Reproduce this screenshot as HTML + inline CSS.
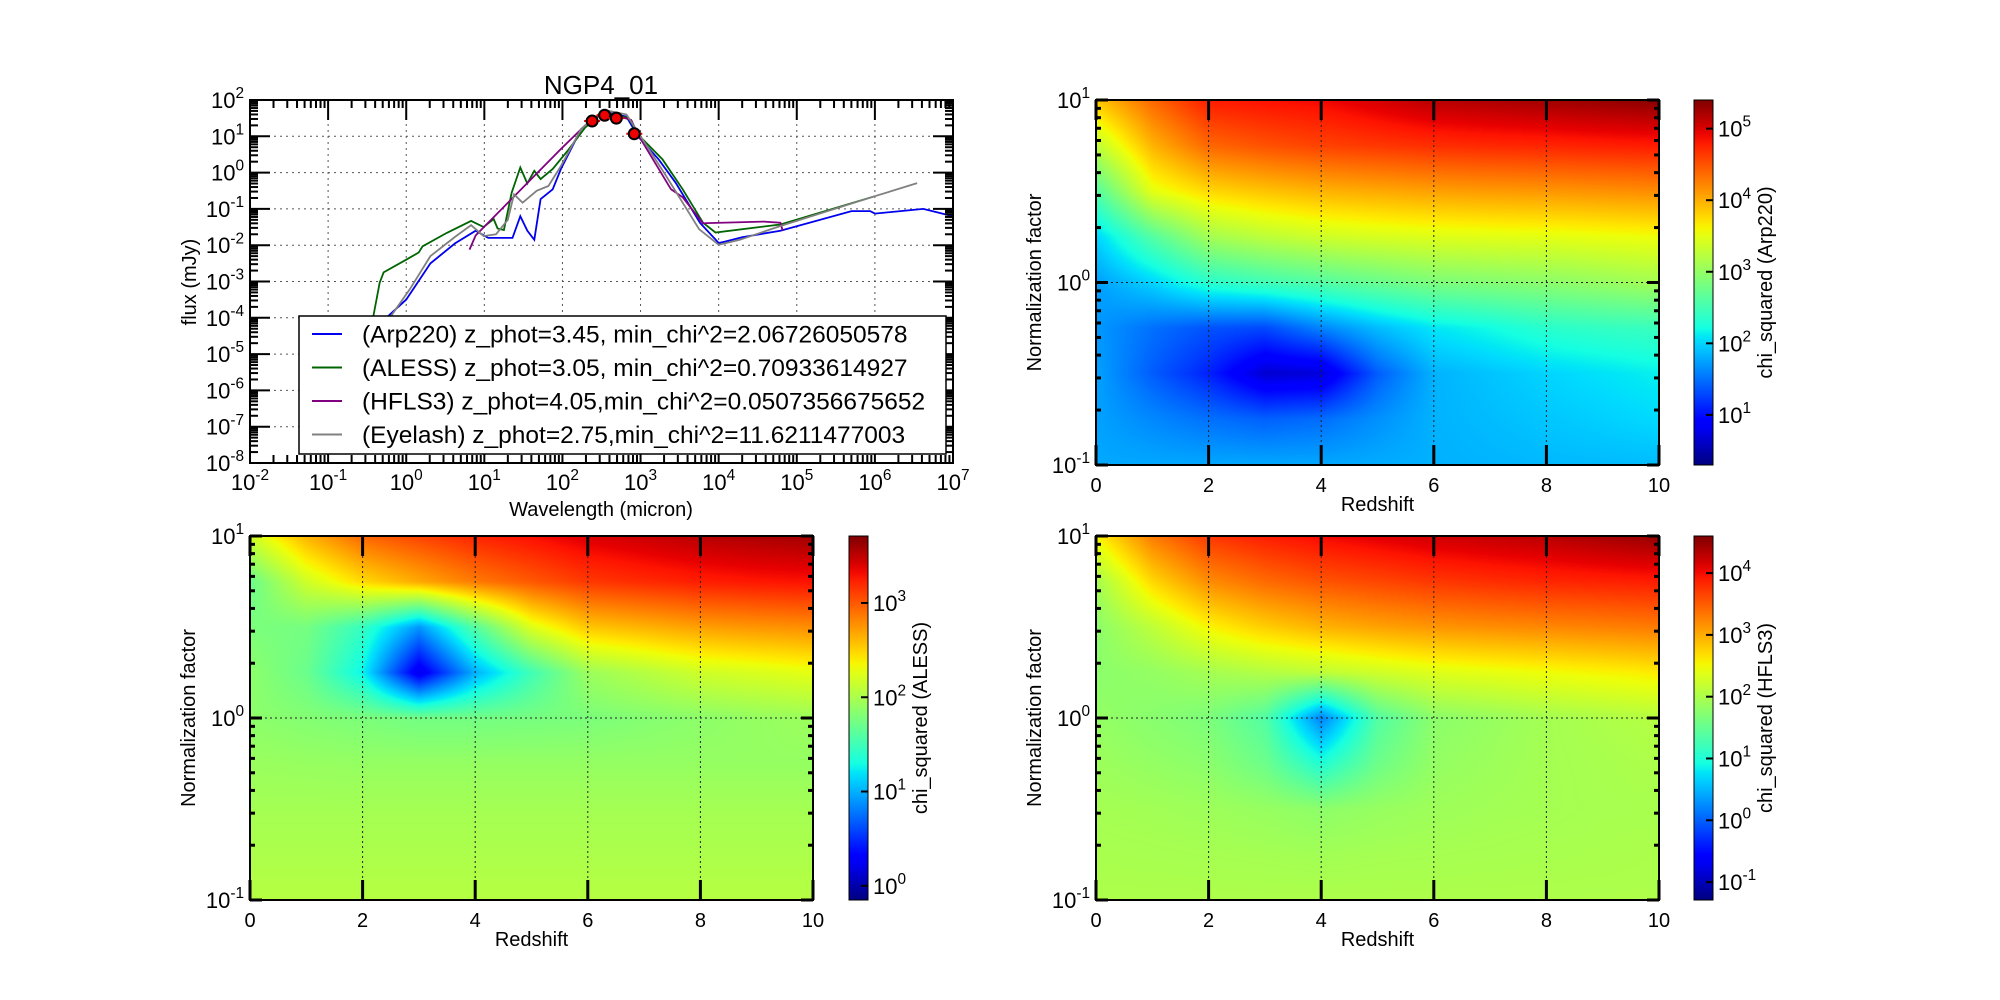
<!DOCTYPE html>
<html><head><meta charset="utf-8">
<style>
html,body{margin:0;padding:0;background:#fff;}
#wrap{position:relative;width:2000px;height:1000px;overflow:hidden;font-family:"Liberation Sans",sans-serif;}
canvas{position:absolute;}
svg{position:absolute;left:0;top:0;}
</style></head>
<body>
<div id="wrap">
<canvas id="hm1" style="left:1096px;top:100px" width="563" height="365"></canvas>
<canvas id="hm2" style="left:250px;top:536px" width="563" height="364"></canvas>
<canvas id="hm3" style="left:1096px;top:536px" width="563" height="364"></canvas>
<svg id="svg" width="2000" height="1000"></svg>
</div>
<script>
// ---------- SED data (log10 wavelength [micron], log10 flux [mJy]) ----------
const arpLogLam = [-0.35,-0.23,0,0.31,0.625,0.89,1.05,1.36,1.46,1.55,1.64,1.72,1.875,1.98,2.24,2.53,2.82,2.97,3.23,3.45,3.76,4.0,4.08,4.3,4.79,5.7,5.94,6.0,6.62,7.0];
const arpLogF   = [-4.4,-3.95,-3.5,-2.5,-1.95,-1.6,-1.8,-1.8,-1.2,-1.6,-1.85,-0.73,-0.46,0.1,1.2,1.68,1.54,0.99,0.37,-0.28,-1.38,-1.94,-1.9,-1.78,-1.6,-1.06,-1.06,-1.13,-1.0,-1.2];
const alessLogLam = [-0.45,-0.42,-0.34,-0.29,0,0.16,0.21,0.52,0.83,0.99,1.12,1.17,1.25,1.35,1.46,1.55,1.64,1.72,1.875,2.08,2.29,2.53,2.85,2.97,3.28,3.54,3.8,3.96,4.79,6.0];
const alessLogF   = [-5.0,-3.95,-3.03,-2.75,-2.4,-2.2,-2.03,-1.66,-1.33,-1.5,-1.28,-1.54,-1.58,-0.55,0.14,-0.3,0.05,-0.18,0.1,0.64,1.24,1.68,1.5,1.04,0.37,-0.46,-1.38,-1.65,-1.43,-0.65];
const hflsLogLam = [0.81,0.89,1.98,2.29,2.53,2.88,2.97,3.39,3.54,3.8,3.85,4.58,4.79,4.82];
const hflsLogF   = [-2.12,-1.73,0.65,1.3,1.68,1.45,1.04,-0.46,-0.68,-1.4,-1.39,-1.35,-1.38,-1.6];
const eyeLogLam = [-0.21,0.05,0.31,0.625,0.83,0.99,1.15,1.3,1.38,1.49,1.67,1.82,1.98,2.24,2.53,2.82,2.97,3.33,3.75,4.0,4.27,4.79,6.0,6.54];
const eyeLogF   = [-4.0,-3.2,-2.3,-1.77,-1.45,-1.75,-1.7,-1.3,-0.6,-0.83,-0.5,-0.37,0.18,1.2,1.73,1.6,1.1,-0.1,-1.56,-1.99,-1.85,-1.47,-0.65,-0.29];
const obsLogLam = [2.38,2.54,2.69,2.92];
const obsLogF   = [1.42,1.58,1.5,1.07];
const legendLabels = ["(Arp220) z_phot=3.45, min_chi^2=2.06726050578","(ALESS) z_phot=3.05, min_chi^2=0.70933614927","(HFLS3) z_phot=4.05,min_chi^2=0.0507356675652","(Eyelash) z_phot=2.75,min_chi^2=11.6211477003"];

// ---------- Heatmap data: log10(chi^2), rows = log10(norm) 1 .. -1 step 0.25, cols = z 0..10 ----------
const hmRedshifts = [0,1,2,3,4,5,6,7,8,9,10];
const hmLogNorms = [1,0.75,0.5,0.25,0,-0.25,-0.5,-0.75,-1];
const arpLogChi = [
[3.87,4.38,4.79,4.85,4.9,5.02,5.15,5.2,5.25,5.3,5.35],
[3.26,3.97,4.38,4.5,4.58,4.64,4.69,4.72,4.74,4.77,4.79],
[2.6,3.5,3.77,3.88,3.97,4.02,4.07,4.1,4.12,4.15,4.18],
[2.0,2.6,3.1,3.25,3.36,3.42,3.46,3.48,3.5,3.53,3.56],
[1.73,2.0,2.34,2.48,2.6,2.73,2.85,2.9,2.95,3.02,3.1],
[1.7,1.5,1.35,1.3,1.6,1.88,2.09,2.2,2.34,2.4,2.44],
[1.75,1.4,1.1,0.66,0.7,1.4,1.83,1.92,2.0,2.07,2.14],
[1.75,1.62,1.5,1.42,1.48,1.66,1.83,1.88,1.93,1.98,2.03],
[1.78,1.78,1.78,1.78,1.78,1.8,1.82,1.84,1.86,1.87,1.88]];
const alessLogChi = [
[2.17,2.63,2.94,3.08,3.21,3.3,3.4,3.46,3.52,3.56,3.59],
[1.7,2.17,2.47,2.67,2.86,3.0,3.13,3.19,3.24,3.27,3.29],
[1.78,1.75,1.45,0.9,1.6,2.24,2.55,2.63,2.71,2.75,2.78],
[1.86,1.7,1.25,0.2,1.0,1.5,1.93,2.05,2.17,2.22,2.28],
[1.86,1.82,1.78,1.74,1.74,1.76,1.78,1.82,1.86,1.9,1.93],
[1.92,1.91,1.9,1.9,1.9,1.9,1.9,1.9,1.9,1.9,1.9],
[1.97,1.97,1.97,1.97,1.97,1.97,1.97,1.97,1.97,1.97,1.97],
[2.01,2.01,2.01,2.01,2.01,2.01,2.01,2.01,2.01,2.01,2.01],
[2.05,2.05,2.05,2.05,2.05,2.05,2.05,2.05,2.05,2.05,2.05]];
const hflsLogChi = [
[2.54,3.3,3.72,3.88,4.01,4.1,4.19,4.25,4.3,4.4,4.48],
[1.95,2.72,3.19,3.4,3.54,3.63,3.72,3.78,3.83,3.86,3.89],
[1.77,2.13,2.54,2.78,2.95,3.05,3.13,3.18,3.22,3.26,3.3],
[1.77,1.83,1.95,2.05,2.13,2.25,2.36,2.42,2.48,2.54,2.6],
[1.83,1.75,1.66,1.36,0.2,1.36,1.77,1.85,1.95,2.01,2.07],
[1.89,1.83,1.77,1.55,1.0,1.55,1.83,1.89,1.95,1.98,2.01],
[1.95,1.93,1.9,1.85,1.78,1.85,1.9,1.93,1.95,1.97,1.98],
[1.98,1.97,1.96,1.95,1.93,1.95,1.96,1.97,1.98,1.99,2.0],
[2.01,2.01,2.01,2.01,2.01,2.01,2.01,2.01,2.01,2.01,2.01]];
const arpCbRange = [0.3,5.4];
const alessCbRange = [-0.15,3.71];
const hflsCbRange = [-1.29,4.6];
const arpCbTicks = [1,2,3,4,5];
const alessCbTicks = [0,1,2,3];
const hflsCbTicks = [-1,0,1,2,3,4];
const zTicks = [0,2,4,6,8,10];
const normTicks = [-1,0,1];
const sedXTicks = [-2,-1,0,1,2,3,4,5,6,7];
const sedYTicks = [2,1,0,-1,-2,-3,-4,-5,-6,-7,-8];

const NS = "http://www.w3.org/2000/svg";
const svg = document.getElementById('svg');
function mk(tag, attrs, parent){
  const e = document.createElementNS(NS, tag);
  for (const k in attrs) e.setAttribute(k, attrs[k]);
  (parent||svg).appendChild(e);
  return e;
}
const JR = [[0,0],[0.35,0],[0.66,1],[0.89,1],[1,0.5]];
const JG = [[0,0],[0.125,0],[0.375,1],[0.64,1],[0.91,0],[1,0]];
const JB = [[0,0.5],[0.11,1],[0.34,1],[0.65,0],[1,0]];
function seg(s, t){
  for (let i=1;i<s.length;i++){ if (t<=s[i][0]){ const a=s[i-1], b=s[i]; return a[1]+(b[1]-a[1])*(t-a[0])/(b[0]-a[0]); } }
  return s[s.length-1][1];
}
function jet(t){
  t = Math.max(0, Math.min(1, t));
  return [Math.round(255*seg(JR,t)), Math.round(255*seg(JG,t)), Math.round(255*seg(JB,t))];
}
function powLabel(parent, x, y, exp, anchor, size, name){
  const t = mk('text', {x:x, y:y, 'font-size':size, 'text-anchor':anchor, fill:'#000'}, parent);
  
  
  t.appendChild(document.createTextNode('10'));
  const s = mk('tspan', {dy:-size*0.45, 'font-size':size*0.7}, t);
  s.textContent = String(exp);
  return t;
}

// ---------------- SED panel ----------------
const S = {x0:250, x1:953, y0:100, y1:463, lx0:-2, lx1:7, ly0:-8, ly1:2};
const sx = v => S.x0 + (v - S.lx0)/(S.lx1 - S.lx0)*(S.x1 - S.x0);
const sy = v => S.y1 - (v - S.ly0)/(S.ly1 - S.ly0)*(S.y1 - S.y0);
const sed = mk('g', {});


const sg = mk('g', {stroke:'#555', 'stroke-width':1, 'stroke-dasharray':'2,4'}, sed);


sedXTicks.forEach(v => { if (v>S.lx0 && v<S.lx1) mk('line', {x1:sx(v), x2:sx(v), y1:S.y0, y2:S.y1}, sg); });
sedYTicks.forEach(v => { if (v>S.ly0 && v<S.ly1) mk('line', {x1:S.x0, x2:S.x1, y1:sy(v), y2:sy(v)}, sg); });
function curve(xs, ys, color, name){
  const d = xs.map((v,i) => (i?'L':'M') + sx(v).toFixed(1) + ',' + sy(ys[i]).toFixed(1)).join(' ');
  const p = mk('path', {d:d, fill:'none', stroke:color, 'stroke-width':1.8}, sed);
  
  
}
curve(arpLogLam, arpLogF, '#0000ee', 'arp220-sed-line');
curve(alessLogLam, alessLogF, '#006400', 'aless-sed-line');
curve(hflsLogLam, hflsLogF, '#800080', 'hfls3-sed-line');
curve(eyeLogLam, eyeLogF, '#808080', 'eyelash-sed-line');
obsLogLam.forEach((v,i) => {
  const g = mk('g', {}, sed);
  
  
  mk('line', {x1:sx(v)-8, x2:sx(v)+8, y1:sy(obsLogF[i]), y2:sy(obsLogF[i]), stroke:'#e00', 'stroke-width':2}, g);
  mk('circle', {cx:sx(v), cy:sy(obsLogF[i]), r:5.5, fill:'#e00', stroke:'#000', 'stroke-width':2}, g);
});
const sf = mk('rect', {x:S.x0, y:S.y0, width:S.x1-S.x0, height:S.y1-S.y0, fill:'none', stroke:'#000', 'stroke-width':2}, sed);


const st = mk('g', {stroke:'#000', 'stroke-width':2}, sed);


for (let d=S.lx0; d<=S.lx1; d++){
  const X = sx(d);
  mk('line', {x1:X, x2:X, y1:S.y0, y2:S.y0+20}, st);
  mk('line', {x1:X, x2:X, y1:S.y1, y2:S.y1-20}, st);
  if (d<S.lx1) for (let k=2;k<10;k++){ const Xm = sx(d+Math.log10(k));
    mk('line', {x1:Xm, x2:Xm, y1:S.y0, y2:S.y0+8}, st);
    mk('line', {x1:Xm, x2:Xm, y1:S.y1, y2:S.y1-8}, st); }
}
for (let d=S.ly0; d<=S.ly1; d++){
  const Y = sy(d);
  mk('line', {x1:S.x0, x2:S.x0+20, y1:Y, y2:Y}, st);
  mk('line', {x1:S.x1, x2:S.x1-20, y1:Y, y2:Y}, st);
  if (d<S.ly1) for (let k=2;k<10;k++){ const Ym = sy(d+Math.log10(k));
    mk('line', {x1:S.x0, x2:S.x0+8, y1:Ym, y2:Ym}, st);
    mk('line', {x1:S.x1, x2:S.x1-8, y1:Ym, y2:Ym}, st); }
}
sedXTicks.forEach(v => powLabel(sed, sx(v), 490, v, 'middle', 22, 'sed-x-tick-label'));
sedYTicks.forEach(v => powLabel(sed, S.x0-6, sy(v)+8, v, 'end', 22, 'sed-y-tick-label'));
const lg = mk('g', {}, sed);


mk('rect', {x:299, y:316, width:647, height:138, fill:'#fff', stroke:'#000', 'stroke-width':1.5}, lg);
const legColors = ['#0000ee','#006400','#800080','#808080'];
legendLabels.forEach((lab,i) => {
  const y = 334 + i*33.5;
  const e = mk('g', {}, lg);
  
  
  mk('line', {x1:312, x2:342, y1:y, y2:y, stroke:legColors[i], 'stroke-width':2}, e);
  const t = mk('text', {x:362, y:y+8.5, 'font-size':24.5, fill:'#000'}, e);
  t.textContent = lab;
});
function label(text, x, y, size, name, rot){
  const t = mk('text', {x:x, y:y, 'font-size':size, 'text-anchor':'middle', fill:'#000'});
  if (rot) t.setAttribute('transform', 'rotate(-90 '+x+' '+y+')');
  
  
  t.textContent = text;
}
label('NGP4_01', 601, 94, 26, 'sed-title');
label('flux (mJy)', 196, 282, 20, 'sed-y-axis-title', true);
label('Wavelength (micron)', 601, 516, 20, 'sed-x-axis-title');

// ---------------- Heatmaps ----------------
function heatmap(canvasId, P, grid, range, cbTicks, cbName, prefix){
  const cv = document.getElementById(canvasId);
  const W = cv.width, H = cv.height, ctx = cv.getContext('2d');
  const img = ctx.createImageData(W, H);
  const nr = hmLogNorms.length, nc = hmRedshifts.length;
  for (let py=0; py<H; py++){
    const ln = 1 - 2*py/(H-1);
    let fr = (hmLogNorms[0]-ln)/(hmLogNorms[0]-hmLogNorms[nr-1])*(nr-1);
    const r0 = Math.min(nr-2, Math.floor(fr)), tr = fr - r0;
    for (let px=0; px<W; px++){
      const z = 10*px/(W-1);
      let fc = (z-hmRedshifts[0])/(hmRedshifts[nc-1]-hmRedshifts[0])*(nc-1);
      const c0 = Math.min(nc-2, Math.floor(fc)), tc = fc - c0;
      const v = (grid[r0][c0]*(1-tc)+grid[r0][c0+1]*tc)*(1-tr) + (grid[r0+1][c0]*(1-tc)+grid[r0+1][c0+1]*tc)*tr;
      const col = jet((v-range[0])/(range[1]-range[0]));
      const i = 4*(py*W+px);
      img.data[i]=col[0]; img.data[i+1]=col[1]; img.data[i+2]=col[2]; img.data[i+3]=255;
    }
  }
  ctx.putImageData(img, 0, 0);
  const g = mk('g', {});
  
  
  const hx = z => P.x0 + z/10*(P.x1-P.x0);
  const hy = l => P.y1 - (l+1)/2*(P.y1-P.y0);
  const gg = mk('g', {stroke:'#222', 'stroke-width':1, 'stroke-dasharray':'2,3'}, g);
  
  
  zTicks.forEach(z => { if (z>0 && z<10) mk('line', {x1:hx(z), x2:hx(z), y1:P.y0, y2:P.y1}, gg); });
  mk('line', {x1:P.x0, x2:P.x1, y1:hy(0), y2:hy(0)}, gg);
  mk('rect', {x:P.x0, y:P.y0, width:P.x1-P.x0, height:P.y1-P.y0, fill:'none', stroke:'#000', 'stroke-width':2}, g);
  const tk = mk('g', {stroke:'#000', 'stroke-width':3}, g);
  
  
  zTicks.forEach(z => {
    mk('line', {x1:hx(z), x2:hx(z), y1:P.y0, y2:P.y0+20}, tk);
    mk('line', {x1:hx(z), x2:hx(z), y1:P.y1, y2:P.y1-20}, tk);
  });
  for (let d=-1; d<=1; d++){
    mk('line', {x1:P.x0, x2:P.x0+12, y1:hy(d), y2:hy(d)}, tk);
    mk('line', {x1:P.x1, x2:P.x1-12, y1:hy(d), y2:hy(d)}, tk);
    if (d<1) for (let k=2;k<10;k++){ const Y = hy(d+Math.log10(k));
      mk('line', {x1:P.x0, x2:P.x0+5, y1:Y, y2:Y}, tk);
      mk('line', {x1:P.x1, x2:P.x1-5, y1:Y, y2:Y}, tk); }
  }
  zTicks.forEach(z => {
    const t = mk('text', {x:hx(z), y:P.y1+27, 'font-size':20, 'text-anchor':'middle'}, g);
    
    
    t.textContent = z;
  });
  normTicks.forEach(l => powLabel(g, P.x0-6, hy(l)+8, l, 'end', 22, prefix+'-y-tick-label'));
  label('Redshift', (P.x0+P.x1)/2, P.y1+46, 20, prefix+'-x-axis-title');
  label('Normalization factor', P.x0-55, (P.y0+P.y1)/2, 20, prefix+'-y-axis-title', true);
  const cb = mk('g', {}, g);
  
  
  const gid = prefix+'-grad';
  const gr = mk('linearGradient', {id:gid, x1:0, y1:1, x2:0, y2:0}, mk('defs', {}, cb));
  for (let i=0;i<=40;i++){ const c = jet(i/40);
    mk('stop', {offset:(i/40), 'stop-color':'rgb('+c.join(',')+')'}, gr); }
  mk('rect', {x:P.cx, y:P.y0, width:19, height:P.y1-P.y0, fill:'url(#'+gid+')', stroke:'#000', 'stroke-width':1}, cb);
  const cy = v => P.y1 - (v-range[0])/(range[1]-range[0])*(P.y1-P.y0);
  cbTicks.forEach(v => {
    mk('line', {x1:P.cx+19, x2:P.cx+12, y1:cy(v), y2:cy(v), stroke:'#000', 'stroke-width':2}, cb);
    powLabel(cb, P.cx+24, cy(v)+8, v, 'start', 22, prefix+'-colorbar-tick-label');
  });
  label(cbName, P.cx+78, (P.y0+P.y1)/2, 20, prefix+'-colorbar-title', true);
}
heatmap('hm1', {x0:1096, x1:1659, y0:100, y1:465, cx:1694}, arpLogChi, arpCbRange, arpCbTicks, 'chi_squared (Arp220)', 'arp220');
heatmap('hm2', {x0:250, x1:813, y0:536, y1:900, cx:849}, alessLogChi, alessCbRange, alessCbTicks, 'chi_squared (ALESS)', 'aless');
heatmap('hm3', {x0:1096, x1:1659, y0:536, y1:900, cx:1694}, hflsLogChi, hflsCbRange, hflsCbTicks, 'chi_squared (HFLS3)', 'hfls3');
</script>
</body></html>
